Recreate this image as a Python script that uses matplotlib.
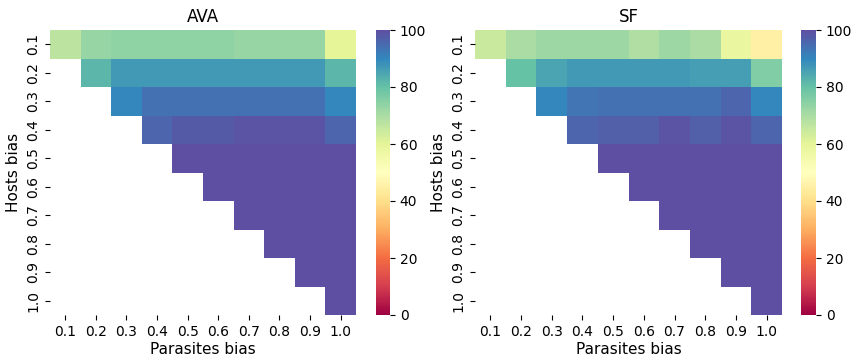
import numpy as np
import matplotlib.pyplot as plt
import seaborn as sns

biases = ["0.1", "0.2", "0.3", "0.4", "0.5", "0.6", "0.7", "0.8", "0.9", "1.0"]

# each row: hosts bias, values for parasites bias >= hosts bias
ava_rows = [
    [67, 73, 74, 74, 74, 74, 73, 73, 73, 60],
    [82, 87, 87, 87, 87, 87, 87, 87, 82],
    [90, 94, 94, 94, 94, 94, 94, 90],
    [96, 98, 98, 99, 99, 99, 96],
    [100, 100, 100, 100, 100, 100],
    [100, 100, 100, 100, 100],
    [100, 100, 100, 100],
    [100, 100, 100],
    [100, 100],
    [100],
]

sf_rows = [
    [65, 70, 72, 72, 72, 69, 72, 70, 58, 45],
    [80, 85, 87, 87, 87, 87, 86, 86, 76],
    [90, 93, 94, 94, 94, 94, 96, 90],
    [96, 97, 97, 99, 97, 99, 96],
    [100, 100, 100, 100, 100, 100],
    [100, 100, 100, 100, 100],
    [100, 100, 100, 100],
    [100, 100, 100],
    [100, 100],
    [100],
]


def to_matrix(rows):
    n = len(rows)
    m = np.full((n, n), np.nan)
    for i, r in enumerate(rows):
        m[i, i:] = r
    return m


W, H = 853, 356
fig = plt.figure(figsize=(W / 100, H / 100), dpi=100)


def box(x0, x1, y0=30, y1=315):
    return [x0 / W, 1 - y1 / H, (x1 - x0) / W, (y1 - y0) / H]


panels = [
    (ava_rows, "AVA", box(50, 356), box(376, 390)),
    (sf_rows, "SF", box(475, 782), box(801, 816)),
]

for rows, title, ax_box, cb_box in panels:
    ax = fig.add_axes(ax_box)
    cax = fig.add_axes(cb_box)
    data = to_matrix(rows)
    sns.heatmap(data, ax=ax, cbar_ax=cax, cmap="Spectral", vmin=0, vmax=100,
                xticklabels=biases, yticklabels=biases)
    ax.set_title(title, fontsize=12)
    ax.set_xlabel("Parasites bias", fontsize=11, labelpad=2)
    ax.set_ylabel("Hosts bias", fontsize=11)
    ax.tick_params(axis="y", labelrotation=90, labelsize=10)
    ax.tick_params(axis="x", labelrotation=0, labelsize=10)
    for lab in ax.get_yticklabels():
        lab.set_va("center")
    cax.tick_params(labelsize=10)

plt.savefig("out.png")
